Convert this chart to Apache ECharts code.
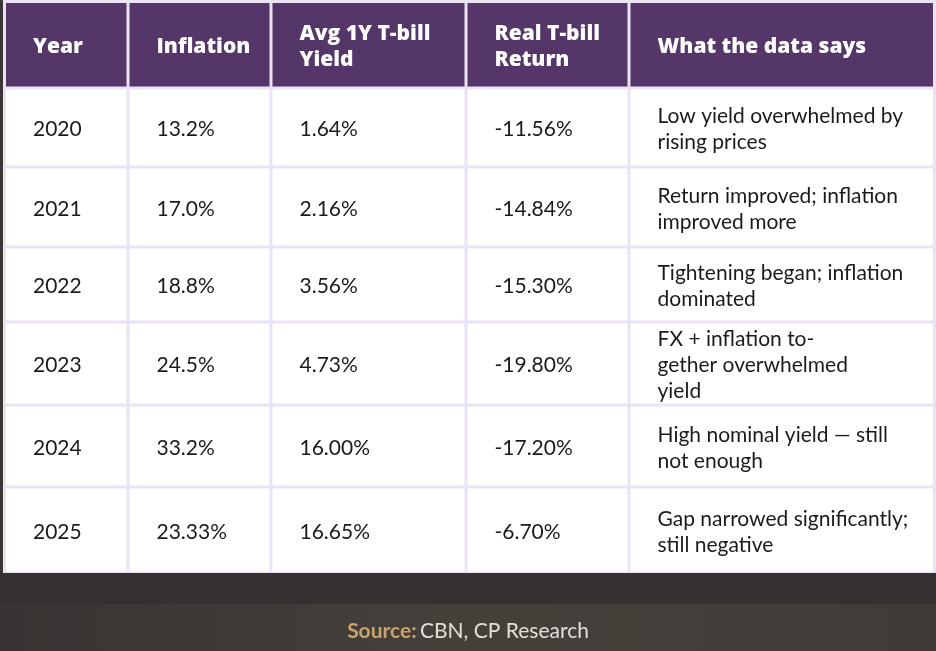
<!DOCTYPE html>
<html>
<head>
<meta charset="utf-8">
<script src="https://cdn.jsdelivr.net/npm/echarts@6/dist/echarts.min.js"></script>
<style>
html,body{margin:0;padding:0;background:#fff;}
#main{width:936px;height:651px;}
</style>
</head>
<body>
<div id="main"></div>
<script>
// table data
var headers = ['Year', 'Inflation', 'Avg 1Y T-bill\nYield', 'Real T-bill\nReturn', 'What the data says'];
var years = ['2020', '2021', '2022', '2023', '2024', '2025'];
var inflation = [13.2, 17.0, 18.8, 24.5, 33.2, 23.33];
var tbillYield = [1.64, 2.16, 3.56, 4.73, 16.00, 16.65];
var realReturn = [-11.56, -14.84, -15.30, -19.80, -17.20, -6.70];
var comments = [
	'Low yield overwhelmed by\nrising prices',
	'Return improved; inflation\nimproved more',
	'Tightening began; inflation\ndominated',
	'FX + inflation to-\ngether overwhelmed\nyield',
	'High nominal yield \u2014 still\nnot enough',
	'Gap narrowed significantly;\nstill negative'
];
var sourceLabel = 'Source:';
var sourceText = 'CBN, CP Research';

// layout (grid lines on a 936 x 651 value plane)
var colEdges = [4.5, 128, 271, 466, 629, 934.5];
var rowEdges = [1.5, 88, 167, 247, 322, 405, 487, 573];

function fmtInfl(v) {
	var s = String(v);
	return s.indexOf('.') < 0 ? s + '.0' : s;
}

var cells = [];
for (var c = 0; c < headers.length; c++) {
	cells.push([c, 0, headers[c]]);
}
for (var i = 0; i < years.length; i++) {
	cells.push([0, i + 1, years[i]]);
	cells.push([1, i + 1, fmtInfl(inflation[i]) + '%']);
	cells.push([2, i + 1, tbillYield[i].toFixed(2) + '%']);
	cells.push([3, i + 1, realReturn[i].toFixed(2) + '%']);
	cells.push([4, i + 1, comments[i]]);
}

var myChart = echarts.init(document.getElementById('main'), null, {renderer: 'canvas'});

function renderCell(params, api) {
	var c = api.value(0), r = api.value(1);
	var text = cells[params.dataIndex][2];
	var p0 = api.coord([colEdges[c], rowEdges[r]]);
	var p1 = api.coord([colEdges[c + 1], rowEdges[r + 1]]);
	var x = p0[0] + 1.5, y = p0[1] + 1.5;
	var w = p1[0] - p0[0] - 3, h = p1[1] - p0[1] - 3;
	var head = r === 0;
	return {
		type: 'group',
		children: [{
			type: 'rect',
			shape: {x: x, y: y, width: w, height: h},
			style: {fill: head ? '#553668' : '#ffffff'}
		}, {
			type: 'text',
			x: x + 27,
			y: y + h / 2 + 2,
			style: {
				text: text,
				fill: head ? '#ffffff' : '#1b1b1b',
				font: head ? '800 21px "Open Sans", Lato, sans-serif' : '21px Lato, "Noto Sans", sans-serif',
				lineHeight: 26,
				align: 'left',
				verticalAlign: 'middle'
			}
		}]
	};
}

myChart.setOption({
	backgroundColor: '#ebe3f3',
	animation: false,
	grid: {left: 0, right: 0, top: 0, bottom: 0},
	xAxis: {type: 'value', min: 0, max: 936, show: false},
	yAxis: {type: 'value', min: 0, max: 651, inverse: true, show: false},
	graphic: [
		{type: 'rect', left: 0, top: 0, shape: {width: 3, height: 573}, style: {fill: '#3a3636'}, z: 10},
		{type: 'rect', left: 0, top: 573, shape: {width: 936, height: 78}, style: {fill: '#353131'}, z: 10},
		{
			type: 'rect', left: 0, top: 604, shape: {width: 936, height: 47}, z: 10,
			style: {
				fill: new echarts.graphic.LinearGradient(0, 0, 1, 0, [
					{offset: 0, color: '#383433'},
					{offset: 0.5, color: '#46403b'},
					{offset: 1, color: '#403b37'}
				])
			}
		},
		{
			type: 'text', left: 'center', top: 621, z: 11,
			style: {
				text: '{b|' + sourceLabel + '} {n|' + sourceText + '}',
				rich: {
					b: {fill: '#c9a468', font: 'bold 21px "Liberation Sans Narrow", Lato, sans-serif'},
					n: {fill: '#e2dfdb', font: '21px "Liberation Sans Narrow", Lato, sans-serif'}
				}
			}
		}
	],
	series: [{
		type: 'custom',
		renderItem: renderCell,
		encode: {x: 0, y: 1},
		data: cells.map(function(d) { return [d[0], d[1]]; }),
		silent: true
	}]
});
</script>
</body>
</html>
